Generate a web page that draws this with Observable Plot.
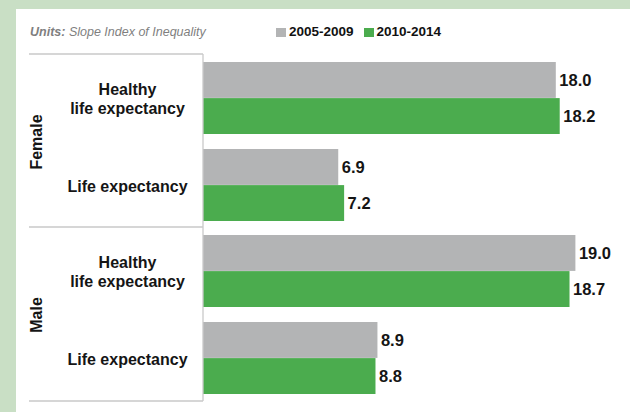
<!DOCTYPE html>
<html>
<head>
<meta charset="utf-8">
<script src="https://cdn.jsdelivr.net/npm/d3@7"></script>
<script src="https://cdn.jsdelivr.net/npm/@observablehq/plot@0.6"></script>
<style>
  html, body { margin: 0; padding: 0; }
  body { width: 630px; height: 412px; background: #c9dfc5; position: relative; overflow: hidden;
         font-family: "Liberation Sans", Arial, sans-serif; }
  #panel { position: absolute; left: 16px; top: 9px; width: 614px; height: 403px; background: #fff; }
  #units { position: absolute; left: 14px; top: 15px; font-size: 12.5px; font-style: italic; color: #7f7f7f; line-height: 16px; }
  #units b { font-weight: bold; }
  #legend { position: absolute; left: 260px; top: 15px; display: flex; align-items: center; font-size: 13.5px; font-weight: bold; color: #111; line-height: 16px; }
  #legend .sw { display: inline-block; width: 10px; height: 9px; margin-right: 3px; }
  #legend .item { display: flex; align-items: center; margin-right: 10px; }
  #chart { position: absolute; left: 0; top: 37px; }
</style>
</head>
<body>
<div id="panel">
  <div id="units"><b>Units:</b> Slope Index of Inequality</div>
  <div id="legend"></div>
  <div id="chart"></div>
</div>
<script>
const sexes = ["Female", "Male"];
const measures = ["Healthy life expectancy", "Life expectancy"];
const measureLabels = ["Healthy\nlife expectancy", "Life expectancy"];
const periods = ["2005-2009", "2010-2014"];
const periodColors = ["#b3b4b5", "#4bac4e"];
// order: Female HLE, Female LE, Male HLE, Male LE
const values2005 = [18.0, 6.9, 19.0, 8.9];
const values2010 = [18.2, 7.2, 18.7, 8.8];

const rows = [];
sexes.forEach((s, i) => measures.forEach((m, j) => {
  rows.push({sex: s, measure: m, period: periods[0], value: values2005[i * 2 + j]});
  rows.push({sex: s, measure: m, period: periods[1], value: values2010[i * 2 + j]});
}));
const early = rows.filter(d => d.period === periods[0]);
const late = rows.filter(d => d.period === periods[1]);

// legend
const legend = d3.select("#legend");
periods.forEach((p, i) => {
  const it = legend.append("span").attr("class", "item");
  it.append("span").attr("class", "sw").style("background", periodColors[i]);
  it.append("span").text(p);
});

const W = 614, H = 366, ML = 187, MR = 35, MT = 8, MB = 11;
const half = 36.1;
const labelFmt = d => measureLabels[measures.indexOf(d)];

const plot = Plot.plot({
  width: W, height: H,
  marginLeft: ML, marginRight: MR, marginTop: MT, marginBottom: MB,
  style: {fontFamily: "'Liberation Sans', Arial, sans-serif", background: "transparent", color: "#111"},
  x: {domain: [0, 20], axis: null},
  y: {domain: measures, paddingInner: 0.1724, paddingOuter: 0.08, axis: null},
  fy: {domain: sexes, padding: 0, axis: null},
  marks: [
    Plot.barX(early, {x: "value", y: "measure", fy: "sex", fill: periodColors[0], insetBottom: half}),
    Plot.barX(late, {x: "value", y: "measure", fy: "sex", fill: periodColors[1], insetTop: half}),
    Plot.text(early, {x: "value", y: "measure", fy: "sex", text: d => d.value.toFixed(1),
      textAnchor: "start", dx: 3, dy: -half / 2, fontSize: 16.5, fontWeight: "bold", fill: "#151515"}),
    Plot.text(late, {x: "value", y: "measure", fy: "sex", text: d => d.value.toFixed(1),
      textAnchor: "start", dx: 3, dy: half / 2, fontSize: 16.5, fontWeight: "bold", fill: "#151515"}),
    Plot.axisY({anchor: "left", tickSize: 0, tickPadding: 76, textAnchor: "middle", label: null,
      tickFormat: labelFmt, fontSize: 16, fontWeight: "bold", lineHeight: 1.2, fill: "#151515"}),
    Plot.axisFy({anchor: "left", tickSize: 0, tickPadding: 162, textAnchor: "middle", tickRotate: -90,
      label: null, fontSize: 16, fontWeight: "bold", fill: "#151515"})
  ]
});

// table lines derived from the fy scale
const fyS = plot.scale("fy");
const yTop = fyS.range[0], yBottom = fyS.range[1];
const bounds = [yTop, yTop + fyS.step, yBottom];
const g = d3.select(plot).append("g").attr("stroke", "#c9c9c9").attr("stroke-width", 1.3).attr("fill", "none");
bounds.forEach(y => g.append("line").attr("x1", 13).attr("x2", ML).attr("y1", y).attr("y2", y));
g.append("line").attr("x1", ML).attr("x2", ML).attr("y1", yTop).attr("y2", yBottom);

document.getElementById("chart").appendChild(plot);
</script>
</body>
</html>
